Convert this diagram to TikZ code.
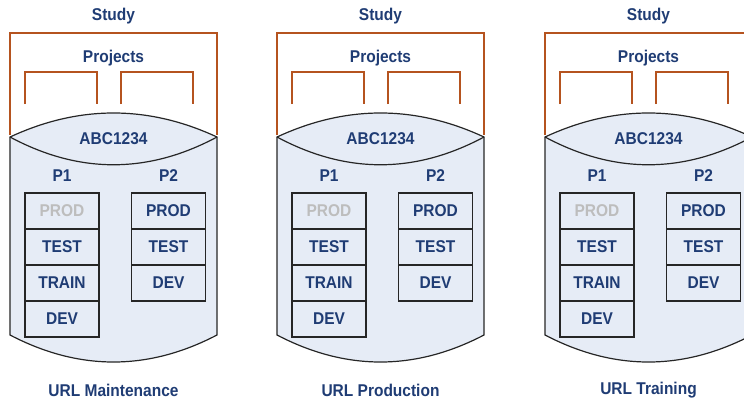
\documentclass[tikz,border=0pt]{standalone}
\usepackage{fontspec}
\setmainfont{Liberation Sans}
\usetikzlibrary{positioning}

\definecolor{navy}{HTML}{1F3C74}
\definecolor{rust}{HTML}{B5531F}
\definecolor{pale}{HTML}{E6ECF6}
\definecolor{faded}{HTML}{BDBDBD}

% taller lettering, as in the original artwork
\newcommand\tallword[1]{\scalebox{1}[1.1]{#1}}

\tikzset{
  lbl/.style={font=\bfseries\fontsize{15.5}{16}\selectfont, text=navy, inner sep=0pt},
  envbox/.style={lbl, draw=black!85, line width=1.2pt, fill=pale,
    minimum width=74pt, minimum height=36pt, outer sep=0pt},
  bracket/.style={draw=rust, line width=1.5pt},
  drum/.style={draw=black!85, line width=1.2pt},
}

\begin{document}
\begin{tikzpicture}[x=1pt, y=-1pt]
  \useasboundingbox (0,0) rectangle (744,402);

  \foreach \i/\xo/\env in {1/0/Maintenance, 2/267/Production, 3/535/Training}{
    \begin{scope}[xshift=\xo pt]
      % Study and project brackets
      \draw[bracket] (10,135) -- (10,33) -- (217,33) -- (217,135);
      \draw[bracket] (25,104) -- (25,72) -- (97,72) -- (97,104);
      \draw[bracket] (121,104) -- (121,72) -- (193,72) -- (193,104);
      \node[lbl] (study\i) at (113.5,16) {\tallword{Study}};
      \node[lbl] (proj\i) at (113.5,58) {\tallword{Projects}};

      % Cylinder
      \fill[pale] (10,137) .. controls (79,105) and (148,105) .. (217,137)
        -- (217,335) .. controls (148,371) and (79,371) .. (10,335) -- cycle;
      \draw[drum] (10,137) .. controls (79,105) and (148,105) .. (217,137)
        -- (217,335) .. controls (148,371) and (79,371) .. (10,335) -- cycle;
      \draw[drum] (10,137) .. controls (79,174) and (148,174) .. (217,137);
      \node[lbl] (db\i) at (113.5,139) {\tallword{ABC1234}};

      % Project P1
      \node[lbl] (pa\i) at (62,176) {\tallword{P1}};
      \node[envbox, text=faded] (pa\i-prod) at (62,211) {\tallword{PROD}};
      \node[envbox, below=0pt of pa\i-prod] (pa\i-test) {\tallword{TEST}};
      \node[envbox, below=0pt of pa\i-test] (pa\i-train) {\tallword{TRAIN}};
      \node[envbox, below=0pt of pa\i-train] (pa\i-dev) {\tallword{DEV}};

      % Project P2
      \node[lbl] (pb\i) at (168.5,176) {\tallword{P2}};
      \node[envbox] (pb\i-prod) at (168.5,211) {\tallword{PROD}};
      \node[envbox, below=0pt of pb\i-prod] (pb\i-test) {\tallword{TEST}};
      \node[envbox, below=0pt of pb\i-test] (pb\i-dev) {\tallword{DEV}};

      \node[lbl] (url\i) at (113.5,390) {\tallword{URL \env}};
    \end{scope}
  }
\end{tikzpicture}
\end{document}
